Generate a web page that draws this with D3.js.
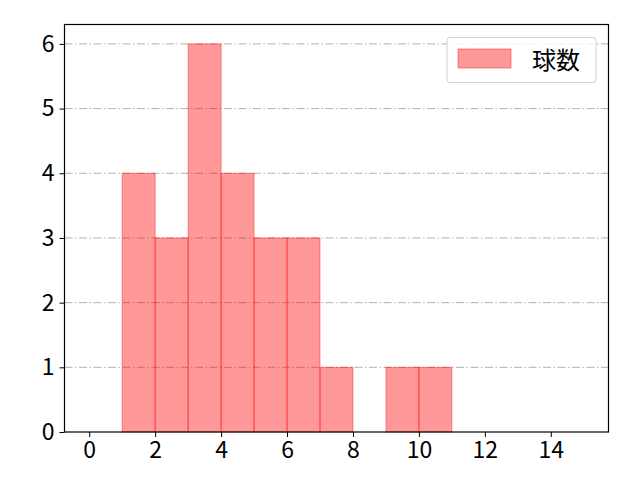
<!DOCTYPE html>
<html>
<head>
<meta charset="utf-8">
<script src="https://cdn.jsdelivr.net/npm/d3@7"></script>
<style>
  body { margin: 0; background: #fff; }
  svg text { font-family: "Noto Sans CJK JP", "DejaVu Sans", sans-serif; }
</style>
</head>
<body>
<svg id="chart"></svg>
<script>
// histogram bins (left edges) and counts
const binEdges = [0, 1, 2, 3, 4, 5, 6, 7, 8, 9, 10, 11, 12, 13, 14, 15]
const counts = [0, 4, 3, 6, 4, 3, 3, 1, 0, 1, 1, 0, 0, 0, 0]
const xTicks = [0, 2, 4, 6, 8, 10, 12, 14]
const yTicks = [0, 1, 2, 3, 4, 5, 6]
const seriesName = "球数"

const width = 640
const height = 480
const margin = {top: 24.5, right: 31.5, bottom: 48, left: 64.5}
const w = width - margin.left - margin.right
const h = height - margin.top - margin.bottom

const bins = counts.map((c, i) => ({x0: binEdges[i], x1: binEdges[i + 1], n: c}))

const svg = d3.select("#chart")
  .attr("width", width)
  .attr("height", height)

const g = svg.append("g")
  .attr("transform", `translate(${margin.left},${margin.top})`)

const xScale = d3.scaleLinear()
  .domain([-0.75, 15.75])
  .range([0, w])

const yScale = d3.scaleLinear()
  .domain([0, 6.3])
  .range([h, 0])

// dash-dot grid
g.append("g")
  .selectAll("line")
  .data(yTicks.filter(d => d > 0))
  .join("line")
  .attr("x1", 0)
  .attr("x2", w)
  .attr("y1", d => yScale(d))
  .attr("y2", d => yScale(d))
  .attr("stroke", "#b0b0b0")
  .attr("stroke-width", 1)
  .attr("stroke-dasharray", "8,2.5,1.5,2.5")

g.append("g")
  .selectAll("rect")
  .data(bins.filter(d => d.n > 0))
  .join("rect")
  .attr("x", d => xScale(d.x0))
  .attr("y", d => yScale(d.n))
  .attr("width", d => xScale(d.x1) - xScale(d.x0))
  .attr("height", d => yScale(0) - yScale(d.n))
  .attr("fill", "red")
  .attr("fill-opacity", 0.4)
  .attr("stroke", "red")
  .attr("stroke-opacity", 0.4)
  .attr("stroke-width", 1)

const xAxis = g.append("g")
  .attr("transform", `translate(0,${h})`)
  .call(d3.axisBottom(xScale).tickValues(xTicks).tickSize(5).tickPadding(5).tickFormat(d3.format("d")))

const yAxis = g.append("g")
  .call(d3.axisLeft(yScale).tickValues(yTicks).tickSize(5).tickPadding(5).tickFormat(d3.format("d")))

for (const ax of [xAxis, yAxis]) {
  ax.select(".domain").remove()
  ax.selectAll("text").attr("font-size", 23).attr("fill", "#000")
    .style("font-family", '"Noto Sans CJK JP", sans-serif')
  ax.selectAll("line").attr("stroke", "#000")
}

// frame
g.append("rect")
  .attr("width", w)
  .attr("height", h)
  .attr("fill", "none")
  .attr("stroke", "#000")
  .attr("stroke-width", 1.2)

// legend
const leg = g.append("g")
  .attr("transform", `translate(${447 - margin.left},${37.5 - margin.top})`)

leg.append("rect")
  .attr("width", 149)
  .attr("height", 45)
  .attr("rx", 3)
  .attr("fill", "#fff")
  .attr("fill-opacity", 0.8)
  .attr("stroke", "#d0d0d0")

leg.append("rect")
  .attr("x", 11)
  .attr("y", 11.5)
  .attr("width", 53)
  .attr("height", 19)
  .attr("fill", "red")
  .attr("fill-opacity", 0.4)
  .attr("stroke", "red")
  .attr("stroke-opacity", 0.4)

leg.append("text")
  .attr("x", 85)
  .attr("y", 31)
  .attr("font-size", 24)
  .attr("fill", "#000")
  .text(seriesName)
</script>
</body>
</html>
